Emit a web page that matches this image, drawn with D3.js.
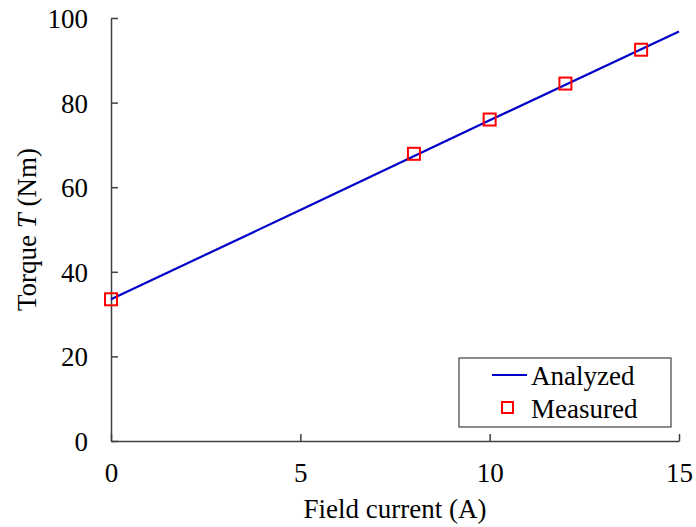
<!DOCTYPE html>
<html>
<head>
<meta charset="utf-8">
<script src="https://cdn.jsdelivr.net/npm/d3@7"></script>
<style>
  html, body { margin: 0; padding: 0; background: #fff; }
  svg { display: block; font-family: "Liberation Serif", "Times New Roman", serif; }
</style>
</head>
<body>
<svg id="chart" width="696" height="527"></svg>
<script>
// Analyzed torque curve (field current in A, torque in Nm)
const analyzedCurrent = [0, 5, 10, 15];
const analyzedTorque = [33.5, 54.6, 75.8, 96.8];

// Measured torque points
const measuredCurrent = [0, 8, 10, 12, 14];
const measuredTorque = [33.5, 67.9, 76.0, 84.5, 92.5];

// Axis ticks
const xTicks = [0, 5, 10, 15];
const yTicks = [0, 20, 40, 60, 80, 100];

const svg = d3.select("#chart");
const margin = { left: 111, right: 17, top: 18, bottom: 86 };
const W = 696, H = 527;
const fontSize = 27;

const x = d3.scaleLinear().domain([0, 15]).range([margin.left, W - margin.right]);
const y = d3.scaleLinear().domain([0, 100]).range([H - margin.bottom, margin.top]);

const axisColor = "#404040";

// x axis with inward ticks
const gx = svg.append("g")
  .attr("transform", `translate(0,${y(0)})`)
  .call(d3.axisBottom(x).tickValues(xTicks).tickSizeInner(-7).tickSizeOuter(0));
gx.select(".domain").attr("stroke", axisColor).attr("stroke-width", 1.5);
gx.selectAll(".tick line").attr("stroke", axisColor).attr("stroke-width", 1.5);
gx.selectAll(".tick text")
  .attr("y", 41).attr("dy", 0)
  .attr("font-size", fontSize).attr("fill", "#000")
  .attr("font-family", "Liberation Serif, serif");

// y axis with inward ticks
const gy = svg.append("g")
  .attr("transform", `translate(${x(0)},0)`)
  .call(d3.axisLeft(y).tickValues(yTicks).tickSizeInner(-7).tickSizeOuter(0));
gy.select(".domain").attr("stroke", axisColor).attr("stroke-width", 1.5);
gy.selectAll(".tick line").attr("stroke", axisColor).attr("stroke-width", 1.5);
gy.selectAll(".tick text")
  .attr("x", -23).attr("dy", "0.35em")
  .attr("font-size", fontSize).attr("fill", "#000")
  .attr("font-family", "Liberation Serif, serif");

// Axis titles
svg.append("text")
  .attr("x", (x(0) + x(15)) / 2)
  .attr("y", 518)
  .attr("text-anchor", "middle")
  .attr("font-size", fontSize)
  .text("Field current (A)");

const yTitle = svg.append("text")
  .attr("transform", `translate(36,${(y(0) + y(100)) / 2}) rotate(-90)`)
  .attr("text-anchor", "middle")
  .attr("font-size", fontSize);
yTitle.append("tspan").text("Torque ");
yTitle.append("tspan").attr("font-style", "italic").text("T");
yTitle.append("tspan").text(" (Nm)");

// Analyzed line
const lineData = analyzedCurrent.map((c, i) => [c, analyzedTorque[i]]);
svg.append("path")
  .datum(lineData)
  .attr("fill", "none")
  .attr("stroke", "#0000c8")
  .attr("stroke-width", 2.2)
  .attr("d", d3.line().x(d => x(d[0])).y(d => y(d[1])));

// Measured markers
const ms = 12;
svg.append("g").selectAll("rect")
  .data(measuredCurrent.map((c, i) => [c, measuredTorque[i]]))
  .join("rect")
  .attr("x", d => x(d[0]) - ms / 2)
  .attr("y", d => y(d[1]) - ms / 2)
  .attr("width", ms)
  .attr("height", ms)
  .attr("fill", "none")
  .attr("stroke", "#ff0000")
  .attr("stroke-width", 2);

// Legend
const lg = svg.append("g");
lg.append("rect")
  .attr("x", 459).attr("y", 358).attr("width", 212).attr("height", 69)
  .attr("fill", "#fff").attr("stroke", axisColor).attr("stroke-width", 1.2);
lg.append("line")
  .attr("x1", 492).attr("x2", 527).attr("y1", 375).attr("y2", 375)
  .attr("stroke", "#0000c8").attr("stroke-width", 2.2);
lg.append("text").attr("x", 531).attr("y", 385).attr("font-size", fontSize).text("Analyzed");
lg.append("rect")
  .attr("x", 502).attr("y", 402).attr("width", 11).attr("height", 11)
  .attr("fill", "none").attr("stroke", "#ff0000").attr("stroke-width", 2);
lg.append("text").attr("x", 531).attr("y", 418).attr("font-size", fontSize).text("Measured");
</script>
</body>
</html>
